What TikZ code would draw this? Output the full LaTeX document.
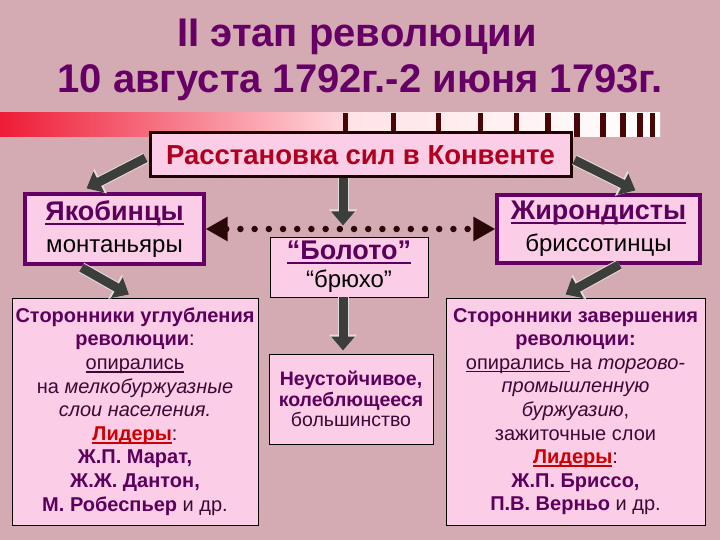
\documentclass[tikz,border=0pt]{standalone}
\usepackage{fontspec}
\setmainfont{Liberation Sans}
\usetikzlibrary{arrows.meta,calc}
\definecolor{bgc}{HTML}{D5ABB3}
\definecolor{ttl}{HTML}{660066}
\definecolor{bld}{HTML}{5C005C}
\definecolor{reg}{HTML}{3A0A36}
\definecolor{boxf}{HTML}{FCCDE6}
\definecolor{rsred}{HTML}{B00020}
\definecolor{rsb}{HTML}{1E0000}
\definecolor{ldr}{HTML}{CC0000}
\definecolor{arrg}{HTML}{3B3E3B}
\definecolor{arrout}{HTML}{E6DCDE}
\definecolor{dotc}{HTML}{2A0808}
\definecolor{barc}{HTML}{4A0505}
\definecolor{barred}{HTML}{EE1C36}
\definecolor{barpink}{HTML}{FFD6DC}
\definecolor{barpinkb}{HTML}{FFE2E6}
\newcommand\myul[1]{{\setbox0=\hbox{#1}\rlap{\rule[-0.16em]{\wd0}{0.075em}}\box0}}
\tikzset{
  ttlfont/.style={font=\fontsize{40}{46}\selectfont\bfseries, text=ttl, inner sep=0pt},
  bigbox/.style={draw=black, line width=0.9pt, fill=boxf, inner sep=0pt, align=center},
  grpbox/.style={draw=ttl, line width=3.2pt, fill=boxf, inner sep=0pt, align=center},
  blockarr/.style={draw=arrg, line width=9pt, -{Triangle[length=14pt,width=23pt]},
     preaction={draw=arrout, line width=11pt, -{Triangle[length=16pt,width=27pt]}}},
  dotarr/.style={draw=dotc, line width=6.5pt, line cap=round, dash pattern=on 0pt off 14.2pt,
     {Triangle[length=22pt,width=23pt]}-{Triangle[length=22pt,width=23pt]}}
}
\begin{document}
\begin{tikzpicture}[x=1pt,y=-1pt]
\useasboundingbox (0,0) rectangle (720,540);
\fill[bgc] (0,0) rectangle (720,540);
% title
\node[ttlfont, anchor=base] (t1) at (357,47) {II этап революции};
\node[ttlfont, anchor=base] (t2) at (360,93) {10 августа 1792г.-2 июня 1793г.};
% decorative bar
\shade[left color=barred, right color=barpink] (0,113) rectangle (345,137);
\shade[left color=barpinkb, right color=white] (345,113) rectangle (660,137);
\foreach \x/\w in {345/5, 393/5, 438/5, 480/5, 516/5, 548/6, 577/6, 603/6, 623/6, 640/6, 652/5}
  \fill[barc] ({\x-\w/2},113) rectangle ({\x+\w/2},137);
% boxes
\node[draw=rsb, line width=3pt, fill=boxf, inner sep=0pt, minimum width=421, minimum height=44,
      font=\fontsize{27.5}{30}\selectfont\bfseries, text=rsred] (rs) at (360.5,155) {Расстановка сил в Конвенте};
\node[grpbox, minimum width=179, minimum height=70, font=\fontsize{24}{32}\selectfont] (jac) at (114.5,229)
  {\textcolor{bld}{\fontsize{27}{32}\selectfont\bfseries\myul{Якобинцы}}\\монтаньяры};
\node[grpbox, minimum width=203, minimum height=68, font=\fontsize{24}{32}\selectfont] (gir) at (598.5,229)
  {\textcolor{bld}{\fontsize{27}{32}\selectfont\bfseries\myul{Жирондисты}}\\бриссотинцы};
\node[bigbox, minimum width=158, minimum height=60, font=\fontsize{24}{28}\selectfont] (bol) at (349,267)
  {\textcolor{bld}{\fontsize{27}{28}\selectfont\bfseries\myul{“Болото”}}\\“брюхо”};
\node[bigbox, minimum width=164, minimum height=90, font=\fontsize{19.5}{20.5}\selectfont, text=bld] (neu) at (351,399)
  {\textbf{Неустойчивое,}\\\textbf{колеблющееся}\\\textcolor{reg}{большинство}};
\node[bigbox, minimum width=246, minimum height=227, font=\fontsize{20}{23.6}\selectfont, text=bld] (lft) at (135,411.5)
  {\textbf{Сторонники углубления}\\
   \textbf{революции}\textcolor{reg}{:}\\
   \textcolor{reg}{\myul{опирались}}\\
   \textcolor{reg}{на \textit{мелкобуржуазные}}\\
   \textcolor{reg}{\textit{слои населения.}}\\
   \textcolor{ldr}{\textbf{\myul{Лидеры}}}\textcolor{reg}{:}\\
   \textbf{Ж.П. Марат,}\\
   \textbf{Ж.Ж. Дантон,}\\
   \textbf{М. Робеспьер} \textcolor{reg}{и др.}};
\node[bigbox, minimum width=259, minimum height=227, font=\fontsize{20}{23.6}\selectfont, text=bld] (rgt) at (575.5,411.5)
  {\textbf{Сторонники завершения}\\
   \textbf{революции:}\\
   \textcolor{reg}{\myul{опирались\ }на \textit{торгово-}}\\
   \textcolor{reg}{\textit{промышленную}}\\
   \textcolor{reg}{\textit{буржуазию},}\\
   \textcolor{reg}{зажиточные слои}\\
   \textcolor{ldr}{\textbf{\myul{Лидеры}}}\textcolor{reg}{:}\\
   \textbf{Ж.П. Бриссо,}\\
   \textbf{П.В. Верньо} \textcolor{reg}{и др.}};
% connectors
\draw[blockarr] ($(rs.west)+(-3,3)$) -- ($(jac.north)+(-28,-4)$);
\draw[blockarr] ($(rs.east)+(2,5)$) -- ($(gir.north)+(37,-3)$);
\coordinate (cdot) at ($(rs.south)+(-17.5,47)$);
\draw[blockarr] ($(rs.south)+(-17.5,0)$) -- (cdot);
\draw[dotarr] (jac.east) -- (gir.west);
\draw[blockarr] ($(bol.south)+(-6,0)$) -- ($(neu.north)+(-8,-3)$);
\draw[blockarr] ($(jac.south)+(-33,2)$) -- ($(lft.north)+(-6,-3)$);
\draw[blockarr] ($(gir.south)+(21,0)$) -- ($(rgt.north)+(-10,-3)$);
\end{tikzpicture}
\end{document}
